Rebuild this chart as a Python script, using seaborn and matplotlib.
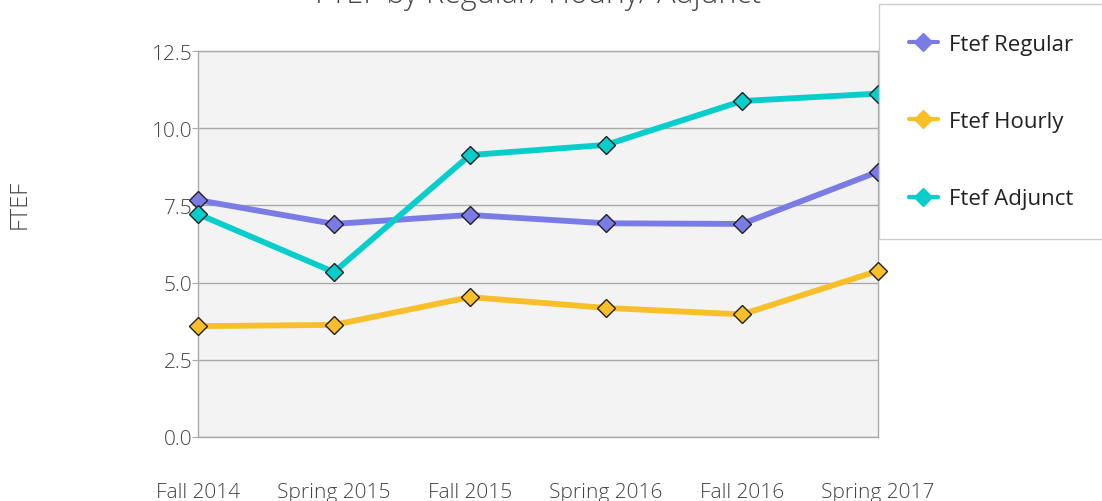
import matplotlib
matplotlib.use("Agg")
import matplotlib.pyplot as plt
from matplotlib.lines import Line2D
import pandas as pd
import seaborn as sns

terms = ["Fall 2014", "Spring 2015", "Fall 2015", "Spring 2016", "Fall 2016", "Spring 2017"]
ftef_regular = [7.67, 6.90, 7.19, 6.92, 6.90, 8.59]
ftef_hourly = [3.59, 3.63, 4.53, 4.18, 3.97, 5.38]
ftef_adjunct = [7.22, 5.34, 9.13, 9.46, 10.88, 11.12]
series_names = ["Ftef Regular", "Ftef Hourly", "Ftef Adjunct"]
colors = ["#7b7be6", "#f8bf2a", "#07cdcb"]

df = pd.DataFrame({
    "term": terms * 3,
    "value": ftef_regular + ftef_hourly + ftef_adjunct,
    "series": [s for s in series_names for _ in terms],
})

sns.set_style("white")
plt.rcParams["font.family"] = ["Open Sans", "DejaVu Sans"]
text_color = "#444444"

fig = plt.figure(figsize=(11.02, 5.02), dpi=100)
ax = fig.add_axes([198 / 1102, 64 / 502, 680 / 1102, 386 / 502])
ax.set_facecolor("#f3f3f3")

sns.lineplot(
    data=df, x="term", y="value", hue="series", palette=colors,
    marker="D", markersize=9, markeredgecolor="#222222", markeredgewidth=1,
    linewidth=4.2, legend=False, ax=ax, clip_on=False, zorder=3,
)

ax.set_xlim(0, 5)
ax.set_ylim(0, 12.5)
ax.set_yticks([0, 2.5, 5, 7.5, 10, 12.5])
ax.set_yticklabels(["0.0", "2.5", "5.0", "7.5", "10.0", "12.5"])
ax.grid(axis="y", color="#aaaaaa", linewidth=1)
ax.set_axisbelow(True)
for side in ["left", "right", "top", "bottom"]:
    ax.spines[side].set_color("#aaaaaa")
    ax.spines[side].set_linewidth(1)
ax.tick_params(axis="y", left=True, length=4, color="#aaaaaa", labelsize=15,
               labelcolor=text_color, pad=0)
ax.tick_params(axis="x", bottom=False, labelsize=15, labelcolor=text_color, pad=29)
for lab in ax.get_xticklabels() + ax.get_yticklabels():
    lab.set_fontweight("light")
ax.set_xlabel("")
ax.set_ylabel("")

fig.text(20 / 1102, 1 - 204 / 502, "FTEF", rotation=90, ha="center", va="center",
         fontsize=17, color=text_color, fontweight="light")
fig.text(538 / 1102, 1 - 3 / 502, "FTEF by Regular/ Hourly/ Adjunct", ha="center",
         va="baseline", fontsize=22, color=text_color, fontweight="light")

handles = [Line2D([0], [0], color=c, linewidth=3, marker="D", markersize=9,
                  markeredgecolor=c) for c in colors]
leg = fig.legend(handles, series_names, loc="upper left",
                 bbox_to_anchor=(879 / 1102, 1 - 5 / 502), frameon=True, framealpha=1,
                 fontsize=16, labelspacing=2.53, handlelength=1.3, handletextpad=0.5,
                 borderpad=1.35, borderaxespad=0, fancybox=False)
leg.get_frame().set_edgecolor("#cccccc")
leg.get_frame().set_linewidth(1)
for t in leg.get_texts():
    t.set_color("#222222")

fig.savefig("out.png", dpi=100)
